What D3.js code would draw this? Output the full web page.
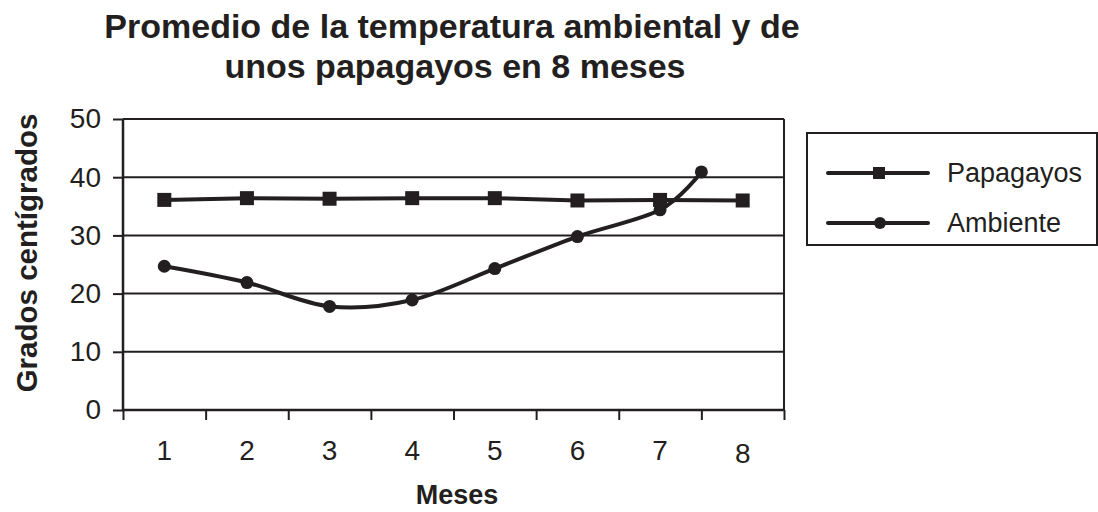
<!DOCTYPE html>
<html>
<head>
<meta charset="utf-8">
<script src="https://cdn.jsdelivr.net/npm/d3@7"></script>
<style>
  body { margin: 0; background: #fff; }
  svg { display: block; }
</style>
</head>
<body>
<script>
// data
var meses = [1, 2, 3, 4, 5, 6, 7, 8];
var papagayos = [36.1, 36.4, 36.3, 36.4, 36.4, 36.0, 36.1, 36.0];
var ambienteMes = [1, 2, 3, 4, 5, 6, 7, 7.5];
var ambiente = [24.7, 21.9, 17.8, 18.9, 24.3, 29.8, 34.4, 40.9];
var yTicks = [0, 10, 20, 30, 40, 50];
var series = ["Papagayos", "Ambiente"];

var ink = "#231f20";
var W = 1098, H = 512;
var margin = { top: 119, right: 314, bottom: 102, left: 123 },
    width = W - margin.left - margin.right,
    height = H - margin.top - margin.bottom;

var svg = d3.select("body").append("svg")
    .attr("width", W)
    .attr("height", H);

var g = svg.append("g")
    .attr("transform", "translate(" + margin.left + "," + margin.top + ")");

var x = d3.scaleLinear().domain([0.5, 8.5]).range([0, width]);
var y = d3.scaleLinear().domain([0, 50]).range([height, 0]);

// horizontal grid lines + top border
g.selectAll(".grid")
    .data(yTicks.filter(function(d) { return d > 0; }))
    .enter().append("line")
    .attr("x1", 0).attr("x2", width)
    .attr("y1", function(d) { return y(d); })
    .attr("y2", function(d) { return y(d); })
    .attr("stroke", ink).attr("stroke-width", 2);

// right border
g.append("line")
    .attr("x1", width).attr("x2", width)
    .attr("y1", 0).attr("y2", height)
    .attr("stroke", ink).attr("stroke-width", 2);

// Y axis
var yAxis = g.append("g")
    .call(d3.axisLeft(y).tickValues(yTicks).tickSize(10).tickPadding(12));
yAxis.select(".domain").attr("stroke", ink).attr("stroke-width", 2.5).attr("d", "M0,0V" + height);
yAxis.selectAll(".tick line").attr("stroke", ink).attr("stroke-width", 2);
yAxis.selectAll("text")
    .attr("fill", ink)
    .style("font-family", "Liberation Sans, Arial, sans-serif")
    .style("font-size", "28px");

// X axis: ticks at bin edges, labels at centres
var edges = d3.range(0.5, 9, 1);
var xAxis = g.append("g")
    .attr("transform", "translate(0," + height + ")")
    .call(d3.axisBottom(x).tickValues(edges).tickSize(10).tickFormat(""));
xAxis.select(".domain").attr("stroke", ink).attr("stroke-width", 2.5).attr("d", "M0,0H" + width);
xAxis.selectAll(".tick line").attr("stroke", ink).attr("stroke-width", 2);

g.selectAll(".xlab")
    .data(meses)
    .enter().append("text")
    .attr("x", function(d) { return x(d); })
    .attr("y", function(d) { return height + (d === 8 ? 53 : 50); })
    .attr("text-anchor", "middle")
    .attr("fill", ink)
    .style("font-family", "Liberation Sans, Arial, sans-serif")
    .style("font-size", "28px")
    .text(function(d) { return d; });

// Papagayos line (straight segments)
var pData = meses.map(function(m, i) { return { m: m, v: papagayos[i] }; });
g.append("path")
    .datum(pData)
    .attr("fill", "none")
    .attr("stroke", ink)
    .attr("stroke-width", 4)
    .attr("d", d3.line()
        .x(function(d) { return x(d.m); })
        .y(function(d) { return y(d.v); }));
g.selectAll(".sq")
    .data(pData)
    .enter().append("rect")
    .attr("x", function(d) { return x(d.m) - 7; })
    .attr("y", function(d) { return y(d.v) - 7; })
    .attr("width", 14).attr("height", 14)
    .attr("fill", ink);

// Ambiente line (smoothed)
var aData = ambienteMes.map(function(m, i) { return { m: m, v: ambiente[i] }; });
g.append("path")
    .datum(aData)
    .attr("fill", "none")
    .attr("stroke", ink)
    .attr("stroke-width", 4)
    .attr("d", d3.line()
        .curve(d3.curveCardinal.tension(0))
        .x(function(d) { return x(d.m); })
        .y(function(d) { return y(d.v); }));
g.selectAll(".dot")
    .data(aData)
    .enter().append("circle")
    .attr("cx", function(d) { return x(d.m); })
    .attr("cy", function(d) { return y(d.v); })
    .attr("r", 6.5)
    .attr("fill", ink);

// Title
var title = svg.append("text")
    .attr("text-anchor", "middle")
    .attr("fill", ink)
    .style("font-family", "Liberation Sans, Arial, sans-serif")
    .style("font-weight", "bold")
    .style("font-size", "34px");
title.append("tspan").attr("x", 452).attr("y", 38).text("Promedio de la temperatura ambiental y de");
title.append("tspan").attr("x", 455).attr("y", 78).text("unos papagayos en 8 meses");

// Axis titles
svg.append("text")
    .attr("transform", "translate(37," + 253 + ") rotate(-90)")
    .attr("text-anchor", "middle")
    .attr("fill", ink)
    .style("font-family", "Liberation Sans, Arial, sans-serif")
    .style("font-weight", "bold")
    .style("font-size", "29.5px")
    .text("Grados centígrados");

svg.append("text")
    .attr("x", 457)
    .attr("y", 504)
    .attr("text-anchor", "middle")
    .attr("fill", ink)
    .style("font-family", "Liberation Sans, Arial, sans-serif")
    .style("font-weight", "bold")
    .style("font-size", "27px")
    .text("Meses");

// Legend
var legend = svg.append("g").attr("transform", "translate(807,133)");
legend.append("rect")
    .attr("width", 290).attr("height", 112)
    .attr("fill", "none").attr("stroke", ink).attr("stroke-width", 2);
var items = legend.selectAll(".item")
    .data(series)
    .enter().append("g")
    .attr("transform", function(d, i) { return "translate(0," + (40 + i * 50) + ")"; });
items.append("line")
    .attr("x1", 21).attr("x2", 121)
    .attr("stroke", ink).attr("stroke-width", 4).attr("stroke-linecap", "round");
items.each(function(d, i) {
    var s = d3.select(this);
    if (i === 0) {
        s.append("rect").attr("x", 66).attr("y", -6).attr("width", 12).attr("height", 12).attr("fill", ink);
    } else {
        s.append("circle").attr("cx", 73).attr("r", 6).attr("fill", ink);
    }
});
items.append("text")
    .attr("x", 140)
    .attr("y", 9)
    .attr("fill", ink)
    .style("font-family", "Liberation Sans, Arial, sans-serif")
    .style("font-size", "27px")
    .text(function(d) { return d; });
</script>
</body>
</html>
